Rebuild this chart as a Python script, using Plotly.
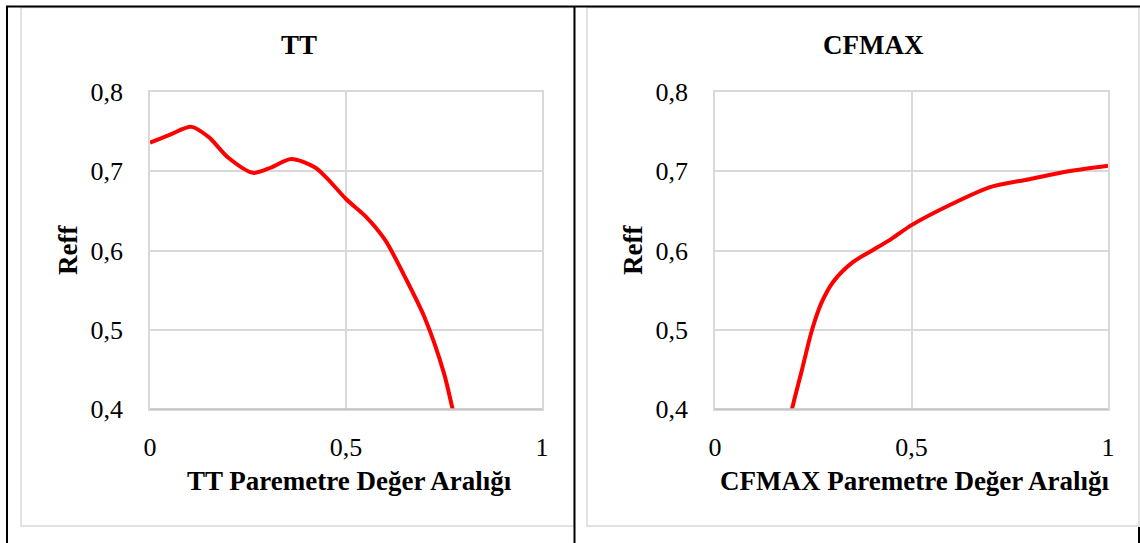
import plotly.graph_objects as go

# ---- data ----
tt_x = [0, 0.05, 0.106, 0.15, 0.2, 0.263, 0.31, 0.36, 0.42, 0.45, 0.5, 0.55, 0.6, 0.65, 0.7, 0.75, 0.772, 0.8]
tt_reff = [0.736, 0.746, 0.756, 0.743, 0.717, 0.698, 0.705, 0.7155, 0.705, 0.692, 0.665, 0.643, 0.613, 0.567, 0.516, 0.445, 0.4, 0.345]

cfmax_x = [0.18, 0.196, 0.22, 0.247, 0.27, 0.30, 0.35, 0.40, 0.45, 0.5, 0.6, 0.7, 0.8, 0.9, 1.0]
cfmax_reff = [0.36, 0.400, 0.447, 0.50, 0.533, 0.56, 0.585, 0.60, 0.615, 0.632, 0.658, 0.68, 0.69, 0.70, 0.707]

x_ticks = [0, 0.5, 1]
y_ticks = [0.4, 0.5, 0.6, 0.7, 0.8]

titles = ["TT", "CFMAX"]
x_titles = ["TT Paremetre Değer Aralığı", "CFMAX Paremetre Değer Aralığı"]
y_title = "Reff"

W, H = 1140, 543
FONT = "Liberation Serif"
FS = 26
FS_T = 27
RED = "#FF0000"
GRID = "#d9d9d9"


def px(x):
    return x / W


def py(y):
    return 1 - y / H


fig = go.Figure()
fig.add_trace(go.Scatter(x=tt_x, y=tt_reff, mode="lines", line=dict(color=RED, width=4, shape="spline", smoothing=0.8),
                         xaxis="x", yaxis="y", showlegend=False, hoverinfo="skip"))
fig.add_trace(go.Scatter(x=cfmax_x, y=cfmax_reff, mode="lines", line=dict(color=RED, width=4, shape="spline", smoothing=0.8),
                         xaxis="x2", yaxis="y2", showlegend=False, hoverinfo="skip"))

plot_x = [(150, 542), (715, 1108)]
top, bottom = 92, 409

axis_common = dict(showgrid=True, gridcolor=GRID, gridwidth=1.5, zeroline=False, automargin=False,
                   showline=True, linecolor=GRID, linewidth=1.5, mirror=True,
                   tickfont=dict(family=FONT, size=FS, color="black"),
                   ticks="outside", tickcolor="rgba(0,0,0,0)")

layout = dict(template="none", width=W, height=H, margin=dict(l=0, r=0, t=0, b=0, pad=0),
              paper_bgcolor="white", plot_bgcolor="white", separators=",.",
              showlegend=False)
for i, (x0, x1) in enumerate(plot_x):
    xs = "" if i == 0 else "2"
    layout["xaxis" + xs] = dict(domain=[px(x0), px(x1)], range=[0, 1], tickvals=x_ticks,
                                anchor="y" + xs, ticklen=14, **axis_common)
    layout["yaxis" + xs] = dict(domain=[py(bottom), py(top)], range=[0.4, 0.8], tickvals=y_ticks,
                                anchor="x" + xs, ticklen=20, tickformat=".1f", **axis_common)
fig.update_layout(**layout)

shapes = []
# darker bottom axis lines
for (x0, x1) in plot_x:
    shapes.append(dict(type="line", xref="paper", yref="paper", x0=px(x0), x1=px(x1), y0=py(bottom), y1=py(bottom),
                       line=dict(color="#bfbfbf", width=1.5), layer="above"))
# chart-area grey borders
shapes.append(dict(type="rect", xref="paper", yref="paper", x0=px(21), x1=px(574), y0=py(526), y1=py(7.5),
                   line=dict(color=GRID, width=1.5)))
shapes.append(dict(type="rect", xref="paper", yref="paper", x0=px(587), x1=px(1139), y0=py(526), y1=py(7.5),
                   line=dict(color=GRID, width=1.5)))
# black table lines
black = dict(color="black", width=2)
shapes.append(dict(type="line", xref="paper", yref="paper", x0=px(6), x1=px(1140), y0=py(6.5), y1=py(6.5), line=black))
shapes.append(dict(type="line", xref="paper", yref="paper", x0=px(7), x1=px(7), y0=py(6), y1=py(543), line=black))
shapes.append(dict(type="line", xref="paper", yref="paper", x0=px(574.5), x1=px(574.5), y0=py(6), y1=py(543), line=black))
shapes.append(dict(type="line", xref="paper", yref="paper", x0=px(1139), x1=px(1139), y0=py(527), y1=py(543), line=black))
fig.update_layout(shapes=shapes)

annotations = []
title_cx = [299, 873]
for i in range(2):
    x0, x1 = plot_x[i]
    annotations.append(dict(text="<b>%s</b>" % titles[i], xref="paper", yref="paper", x=px(title_cx[i]), y=py(45),
                            xanchor="center", yanchor="middle", showarrow=False,
                            font=dict(family=FONT, size=FS_T, color="black")))
    annotations.append(dict(text="<b>%s</b>" % x_titles[i], xref="paper", yref="paper", x=px((x0 + x1) / 2 + 3), y=py(481),
                            xanchor="center", yanchor="middle", showarrow=False,
                            font=dict(family=FONT, size=FS_T, color="black")))
    annotations.append(dict(text="<b>%s</b>" % y_title, xref="paper", yref="paper", x=px(x0 - 82), y=py(250),
                            xanchor="center", yanchor="middle", showarrow=False, textangle=-90,
                            font=dict(family=FONT, size=FS_T, color="black")))
fig.update_layout(annotations=annotations)

fig.write_html("out.html")
